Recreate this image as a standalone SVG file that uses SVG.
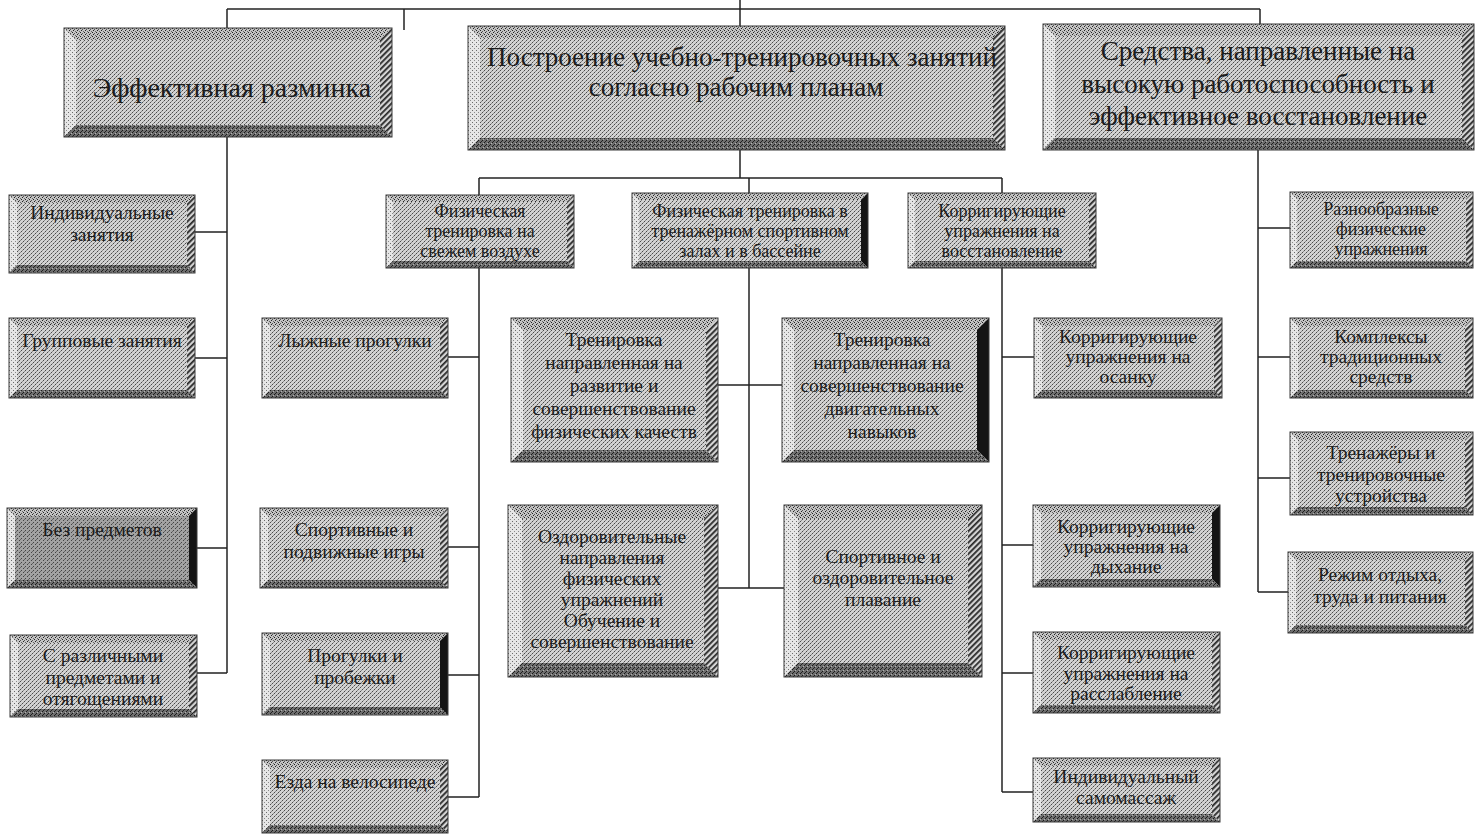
<svg xmlns="http://www.w3.org/2000/svg" width="1476" height="835" viewBox="0 0 1476 835">
<defs>
<pattern id="face" width="4" height="4" patternUnits="userSpaceOnUse"><rect width="4" height="4" fill="#d2d2d2"/><rect x="0" y="0" width="1" height="1" fill="#4a4a4a"/><rect x="2" y="2" width="1" height="1" fill="#4a4a4a"/><rect x="1" y="3" width="1" height="1" fill="#8a8a8a"/><rect x="3" y="1" width="1" height="1" fill="#8a8a8a"/></pattern>
<pattern id="faceD" width="4" height="4" patternUnits="userSpaceOnUse"><rect width="4" height="4" fill="#a2a2a2"/><rect x="0" y="0" width="1" height="1" fill="#444"/><rect x="2" y="2" width="1" height="1" fill="#444"/><rect x="1" y="3" width="1" height="1" fill="#666"/></pattern>
<pattern id="bevT" width="4" height="4" patternUnits="userSpaceOnUse"><rect width="4" height="4" fill="#c4c4c4"/><rect x="0" y="0" width="1" height="1" fill="#222"/><rect x="2" y="1" width="1" height="1" fill="#555"/><rect x="1" y="2" width="1" height="1" fill="#222"/><rect x="3" y="3" width="1" height="1" fill="#666"/></pattern>
<pattern id="bevL" width="4" height="4" patternUnits="userSpaceOnUse"><rect width="4" height="4" fill="#e6e6e6"/><rect x="0" y="0" width="1" height="1" fill="#6a6a6a"/><rect x="2" y="2" width="1" height="1" fill="#8a8a8a"/></pattern>
<pattern id="hatch" width="4" height="4" patternUnits="userSpaceOnUse" patternTransform="rotate(45)"><rect width="4" height="4" fill="#d4d4d4"/><rect x="0" y="0" width="1.8" height="4" fill="#2a2a2a"/></pattern>
<pattern id="bevB" width="4" height="4" patternUnits="userSpaceOnUse"><rect width="4" height="4" fill="#6e6e6e"/><rect x="0" y="0" width="1" height="1" fill="#1a1a1a"/><rect x="2" y="2" width="1" height="1" fill="#1a1a1a"/><rect x="1" y="3" width="1" height="1" fill="#222"/><rect x="3" y="1" width="1" height="1" fill="#b0b0b0"/></pattern>
<style>
.f{fill:url(#face)}
.fd{fill:url(#faceD)}
.t{fill:url(#bevT)}
.l{fill:url(#bevL)}
.r{fill:url(#hatch)}
.rk{fill:#141414}
.b{fill:url(#bevB)}
.e{fill:none;stroke:#3a3a3a;stroke-width:1}
text{font-family:"Liberation Serif","Times New Roman",serif;fill:#1c1c1c;text-anchor:middle}
.s28{font-size:28px}
.s27{font-size:27px}
.s19{font-size:19.5px}
.s18{font-size:18px}
#connectors path{fill:none;stroke:#222;stroke-width:1.5}
</style>
</defs>
<rect width="1476" height="835" fill="#ffffff"/>

<g id="connectors">
<path d="M227,9 H1260"/>
<path d="M740,0 V26"/>
<path d="M227,9 V28"/>
<path d="M404,9 V30"/>
<path d="M1260,9 V24"/>
<path d="M227,137 V673"/>
<path d="M195,232 H227 M195,358 H227 M197,548 H227 M197,673 H227"/>
<path d="M740,150 V178"/>
<path d="M479,178 H1002"/>
<path d="M479,178 V195 M749,178 V193 M1002,178 V193"/>
<path d="M479,268 V797"/>
<path d="M448,357 H479 M448,547 H479 M448,675 H479 M448,797 H479"/>
<path d="M749,268 V588"/>
<path d="M718,385 H782 M718,588 H784"/>
<path d="M1002,268 V792"/>
<path d="M1002,357 H1034 M1002,545 H1033 M1002,673 H1033 M1002,792 H1033"/>
<path d="M1258,150 V592"/>
<path d="M1258,228 H1290 M1258,357 H1290 M1258,478 H1290 M1258,592 H1288"/>
</g>

<g id="n1" transform="translate(64,28)">
<rect class="f" width="328" height="109"/>
<path class="t" d="M0,0 H328 L316,12 H12 Z"/><path class="l" d="M0,0 L12,12 V97 L0,109 Z"/><path class="r" d="M328,0 V109 L316,97 V12 Z"/><path class="b" d="M0,109 H328 L316,97 H12 Z"/>
<rect class="e" width="328" height="109"/>
<text class="s28" x="168" y="69">Эффективная разминка</text>
</g>

<g id="n2" transform="translate(468,26)">
<rect class="f" width="537" height="124"/>
<path class="t" d="M0,0 H537 L525,12 H12 Z"/><path class="l" d="M0,0 L12,12 V112 L0,124 Z"/><path class="r" d="M537,0 V124 L525,112 V12 Z"/><path class="b" d="M0,124 H537 L525,112 H12 Z"/>
<rect class="e" width="537" height="124"/>
<text class="s27" x="274" y="40">Построение учебно-тренировочных занятий</text>
<text class="s27" x="268" y="70">согласно рабочим планам</text>
</g>

<g id="n3" transform="translate(1043,24)">
<rect class="f" width="431" height="126"/>
<path class="t" d="M0,0 H431 L419,12 H12 Z"/><path class="l" d="M0,0 L12,12 V114 L0,126 Z"/><path class="r" d="M431,0 V126 L419,114 V12 Z"/><path class="b" d="M0,126 H431 L419,114 H12 Z"/>
<rect class="e" width="431" height="126"/>
<text class="s27" x="215" y="36">Средства, направленные на</text>
<text class="s27" x="215" y="69">высокую работоспособность и</text>
<text class="s27" x="215" y="101">эффективное восстановление</text>
</g>

<g id="n4" transform="translate(386,195)">
<rect class="f" width="188" height="73"/>
<path class="t" d="M0,0 H188 L181,7 H7 Z"/><path class="l" d="M0,0 L7,7 V66 L0,73 Z"/><path class="r" d="M188,0 V73 L181,66 V7 Z"/><path class="b" d="M0,73 H188 L181,66 H7 Z"/>
<rect class="e" width="188" height="73"/>
<text class="s18" x="94" y="22">Физическая</text>
<text class="s18" x="94" y="42">тренировка на</text>
<text class="s18" x="94" y="62">свежем воздухе</text>
</g>

<g id="n5" transform="translate(632,193)">
<rect class="f" width="236" height="75"/>
<path class="t" d="M0,0 H236 L229,7 H7 Z"/><path class="l" d="M0,0 L7,7 V68 L0,75 Z"/><path class="rk" d="M236,0 V75 L229,68 V7 Z"/><path class="b" d="M0,75 H236 L229,68 H7 Z"/>
<rect class="e" width="236" height="75"/>
<text class="s18" x="118" y="24">Физическая тренировка в</text>
<text class="s18" x="118" y="44">тренажёрном спортивном</text>
<text class="s18" x="118" y="64">залах и в бассейне</text>
</g>

<g id="n6" transform="translate(908,193)">
<rect class="f" width="188" height="75"/>
<path class="t" d="M0,0 H188 L181,7 H7 Z"/><path class="l" d="M0,0 L7,7 V68 L0,75 Z"/><path class="r" d="M188,0 V75 L181,68 V7 Z"/><path class="b" d="M0,75 H188 L181,68 H7 Z"/>
<rect class="e" width="188" height="75"/>
<text class="s18" x="94" y="24">Корригирующие</text>
<text class="s18" x="94" y="44">упражнения на</text>
<text class="s18" x="94" y="64">восстановление</text>
</g>

<g id="n7" transform="translate(9,195)">
<rect class="f" width="186" height="78"/>
<path class="t" d="M0,0 H186 L178,8 H8 Z"/><path class="l" d="M0,0 L8,8 V70 L0,78 Z"/><path class="r" d="M186,0 V78 L178,70 V8 Z"/><path class="b" d="M0,78 H186 L178,70 H8 Z"/>
<rect class="e" width="186" height="78"/>
<text class="s19" x="93" y="24">Индивидуальные</text>
<text class="s19" x="93" y="46">занятия</text>
</g>

<g id="n8" transform="translate(9,318)">
<rect class="f" width="186" height="80"/>
<path class="t" d="M0,0 H186 L178,8 H8 Z"/><path class="l" d="M0,0 L8,8 V72 L0,80 Z"/><path class="r" d="M186,0 V80 L178,72 V8 Z"/><path class="b" d="M0,80 H186 L178,72 H8 Z"/>
<rect class="e" width="186" height="80"/>
<text class="s19" x="93" y="29">Групповые занятия</text>
</g>

<g id="n9" transform="translate(7,508)">
<rect class="fd" width="190" height="80"/>
<path class="t" d="M0,0 H190 L182,8 H8 Z"/><path class="l" d="M0,0 L8,8 V72 L0,80 Z"/><path class="rk" d="M190,0 V80 L182,72 V8 Z"/><path class="b" d="M0,80 H190 L182,72 H8 Z"/>
<rect class="e" width="190" height="80"/>
<text class="s19" x="95" y="28">Без предметов</text>
</g>

<g id="n10" transform="translate(10,635)">
<rect class="f" width="187" height="82"/>
<path class="t" d="M0,0 H187 L179,8 H8 Z"/><path class="l" d="M0,0 L8,8 V74 L0,82 Z"/><path class="r" d="M187,0 V82 L179,74 V8 Z"/><path class="b" d="M0,82 H187 L179,74 H8 Z"/>
<rect class="e" width="187" height="82"/>
<text class="s19" x="93" y="27">С различными</text>
<text class="s19" x="93" y="49">предметами и</text>
<text class="s19" x="93" y="70">отягощениями</text>
</g>

<g id="n11" transform="translate(262,318)">
<rect class="f" width="186" height="80"/>
<path class="t" d="M0,0 H186 L178,8 H8 Z"/><path class="l" d="M0,0 L8,8 V72 L0,80 Z"/><path class="r" d="M186,0 V80 L178,72 V8 Z"/><path class="b" d="M0,80 H186 L178,72 H8 Z"/>
<rect class="e" width="186" height="80"/>
<text class="s19" x="93" y="29">Лыжные прогулки</text>
</g>

<g id="n12" transform="translate(260,508)">
<rect class="f" width="188" height="80"/>
<path class="t" d="M0,0 H188 L180,8 H8 Z"/><path class="l" d="M0,0 L8,8 V72 L0,80 Z"/><path class="r" d="M188,0 V80 L180,72 V8 Z"/><path class="b" d="M0,80 H188 L180,72 H8 Z"/>
<rect class="e" width="188" height="80"/>
<text class="s19" x="94" y="28">Спортивные и</text>
<text class="s19" x="94" y="50">подвижные игры</text>
</g>

<g id="n13" transform="translate(262,633)">
<rect class="f" width="186" height="82"/>
<path class="t" d="M0,0 H186 L178,8 H8 Z"/><path class="l" d="M0,0 L8,8 V74 L0,82 Z"/><path class="rk" d="M186,0 V82 L178,74 V8 Z"/><path class="b" d="M0,82 H186 L178,74 H8 Z"/>
<rect class="e" width="186" height="82"/>
<text class="s19" x="93" y="29">Прогулки и</text>
<text class="s19" x="93" y="51">пробежки</text>
</g>

<g id="n14" transform="translate(262,760)">
<rect class="f" width="186" height="73"/>
<path class="t" d="M0,0 H186 L178,8 H8 Z"/><path class="l" d="M0,0 L8,8 V65 L0,73 Z"/><path class="r" d="M186,0 V73 L178,65 V8 Z"/><path class="b" d="M0,73 H186 L178,65 H8 Z"/>
<rect class="e" width="186" height="73"/>
<text class="s19" x="93" y="28">Езда на велосипеде</text>
</g>

<g id="n15" transform="translate(511,318)">
<rect class="f" width="207" height="144"/>
<path class="t" d="M0,0 H207 L195,12 H12 Z"/><path class="l" d="M0,0 L12,12 V132 L0,144 Z"/><path class="r" d="M207,0 V144 L195,132 V12 Z"/><path class="b" d="M0,144 H207 L195,132 H12 Z"/>
<rect class="e" width="207" height="144"/>
<text class="s19" x="103" y="28">Тренировка</text>
<text class="s19" x="103" y="51">направленная на</text>
<text class="s19" x="103" y="74">развитие и</text>
<text class="s19" x="103" y="97">совершенствование</text>
<text class="s19" x="103" y="120">физических качеств</text>
</g>

<g id="n16" transform="translate(782,318)">
<rect class="f" width="207" height="144"/>
<path class="t" d="M0,0 H207 L195,12 H12 Z"/><path class="l" d="M0,0 L12,12 V132 L0,144 Z"/><path class="rk" d="M207,0 V144 L195,132 V12 Z"/><path class="b" d="M0,144 H207 L195,132 H12 Z"/>
<rect class="e" width="207" height="144"/>
<text class="s19" x="100" y="28">Тренировка</text>
<text class="s19" x="100" y="51">направленная на</text>
<text class="s19" x="100" y="74">совершенствование</text>
<text class="s19" x="100" y="97">двигательных</text>
<text class="s19" x="100" y="120">навыков</text>
</g>

<g id="n17" transform="translate(508,505)">
<rect class="f" width="210" height="172"/>
<path class="t" d="M0,0 H210 L196,14 H14 Z"/><path class="l" d="M0,0 L14,14 V158 L0,172 Z"/><path class="r" d="M210,0 V172 L196,158 V14 Z"/><path class="b" d="M0,172 H210 L196,158 H14 Z"/>
<rect class="e" width="210" height="172"/>
<text class="s19" x="104" y="38">Оздоровительные</text>
<text class="s19" x="104" y="59">направления</text>
<text class="s19" x="104" y="80">физических</text>
<text class="s19" x="104" y="101">упражнений</text>
<text class="s19" x="104" y="122">Обучение и</text>
<text class="s19" x="104" y="143">совершенствование</text>
</g>

<g id="n18" transform="translate(784,505)">
<rect class="f" width="198" height="172"/>
<path class="t" d="M0,0 H198 L184,14 H14 Z"/><path class="l" d="M0,0 L14,14 V158 L0,172 Z"/><path class="r" d="M198,0 V172 L184,158 V14 Z"/><path class="b" d="M0,172 H198 L184,158 H14 Z"/>
<rect class="e" width="198" height="172"/>
<text class="s19" x="99" y="58">Спортивное и</text>
<text class="s19" x="99" y="79">оздоровительное</text>
<text class="s19" x="99" y="101">плавание</text>
</g>

<g id="n19" transform="translate(1034,318)">
<rect class="f" width="188" height="80"/>
<path class="t" d="M0,0 H188 L180,8 H8 Z"/><path class="l" d="M0,0 L8,8 V72 L0,80 Z"/><path class="r" d="M188,0 V80 L180,72 V8 Z"/><path class="b" d="M0,80 H188 L180,72 H8 Z"/>
<rect class="e" width="188" height="80"/>
<text class="s19" x="94" y="25">Корригирующие</text>
<text class="s19" x="94" y="45">упражнения на</text>
<text class="s19" x="94" y="65">осанку</text>
</g>

<g id="n20" transform="translate(1033,505)">
<rect class="f" width="187" height="82"/>
<path class="t" d="M0,0 H187 L179,8 H8 Z"/><path class="l" d="M0,0 L8,8 V74 L0,82 Z"/><path class="rk" d="M187,0 V82 L179,74 V8 Z"/><path class="b" d="M0,82 H187 L179,74 H8 Z"/>
<rect class="e" width="187" height="82"/>
<text class="s19" x="93" y="28">Корригирующие</text>
<text class="s19" x="93" y="48">упражнения на</text>
<text class="s19" x="93" y="68">дыхание</text>
</g>

<g id="n21" transform="translate(1033,632)">
<rect class="f" width="187" height="81"/>
<path class="t" d="M0,0 H187 L179,8 H8 Z"/><path class="l" d="M0,0 L8,8 V73 L0,81 Z"/><path class="r" d="M187,0 V81 L179,73 V8 Z"/><path class="b" d="M0,81 H187 L179,73 H8 Z"/>
<rect class="e" width="187" height="81"/>
<text class="s19" x="93" y="27">Корригирующие</text>
<text class="s19" x="93" y="48">упражнения на</text>
<text class="s19" x="93" y="68">расслабление</text>
</g>

<g id="n22" transform="translate(1033,758)">
<rect class="f" width="187" height="64"/>
<path class="t" d="M0,0 H187 L179,8 H8 Z"/><path class="l" d="M0,0 L8,8 V56 L0,64 Z"/><path class="r" d="M187,0 V64 L179,56 V8 Z"/><path class="b" d="M0,64 H187 L179,56 H8 Z"/>
<rect class="e" width="187" height="64"/>
<text class="s19" x="93" y="25">Индивидуальный</text>
<text class="s19" x="93" y="46">самомассаж</text>
</g>

<g id="n23" transform="translate(1290,192)">
<rect class="f" width="183" height="76"/>
<path class="t" d="M0,0 H183 L176,7 H7 Z"/><path class="l" d="M0,0 L7,7 V69 L0,76 Z"/><path class="r" d="M183,0 V76 L176,69 V7 Z"/><path class="b" d="M0,76 H183 L176,69 H7 Z"/>
<rect class="e" width="183" height="76"/>
<text class="s18" x="91" y="23">Разнообразные</text>
<text class="s18" x="91" y="43">физические</text>
<text class="s18" x="91" y="63">упражнения</text>
</g>

<g id="n24" transform="translate(1290,318)">
<rect class="f" width="183" height="80"/>
<path class="t" d="M0,0 H183 L175,8 H8 Z"/><path class="l" d="M0,0 L8,8 V72 L0,80 Z"/><path class="r" d="M183,0 V80 L175,72 V8 Z"/><path class="b" d="M0,80 H183 L175,72 H8 Z"/>
<rect class="e" width="183" height="80"/>
<text class="s19" x="91" y="25">Комплексы</text>
<text class="s19" x="91" y="45">традиционных</text>
<text class="s19" x="91" y="65">средств</text>
</g>

<g id="n25" transform="translate(1290,432)">
<rect class="f" width="183" height="83"/>
<path class="t" d="M0,0 H183 L175,8 H8 Z"/><path class="l" d="M0,0 L8,8 V75 L0,83 Z"/><path class="r" d="M183,0 V83 L175,75 V8 Z"/><path class="b" d="M0,83 H183 L175,75 H8 Z"/>
<rect class="e" width="183" height="83"/>
<text class="s19" x="91" y="27">Тренажёры и</text>
<text class="s19" x="91" y="49">тренировочные</text>
<text class="s19" x="91" y="70">устройства</text>
</g>

<g id="n26" transform="translate(1288,552)">
<rect class="f" width="185" height="81"/>
<path class="t" d="M0,0 H185 L177,8 H8 Z"/><path class="l" d="M0,0 L8,8 V73 L0,81 Z"/><path class="r" d="M185,0 V81 L177,73 V8 Z"/><path class="b" d="M0,81 H185 L177,73 H8 Z"/>
<rect class="e" width="185" height="81"/>
<text class="s19" x="92" y="29">Режим отдыха,</text>
<text class="s19" x="92" y="51">труда и питания</text>
</g>
</svg>
